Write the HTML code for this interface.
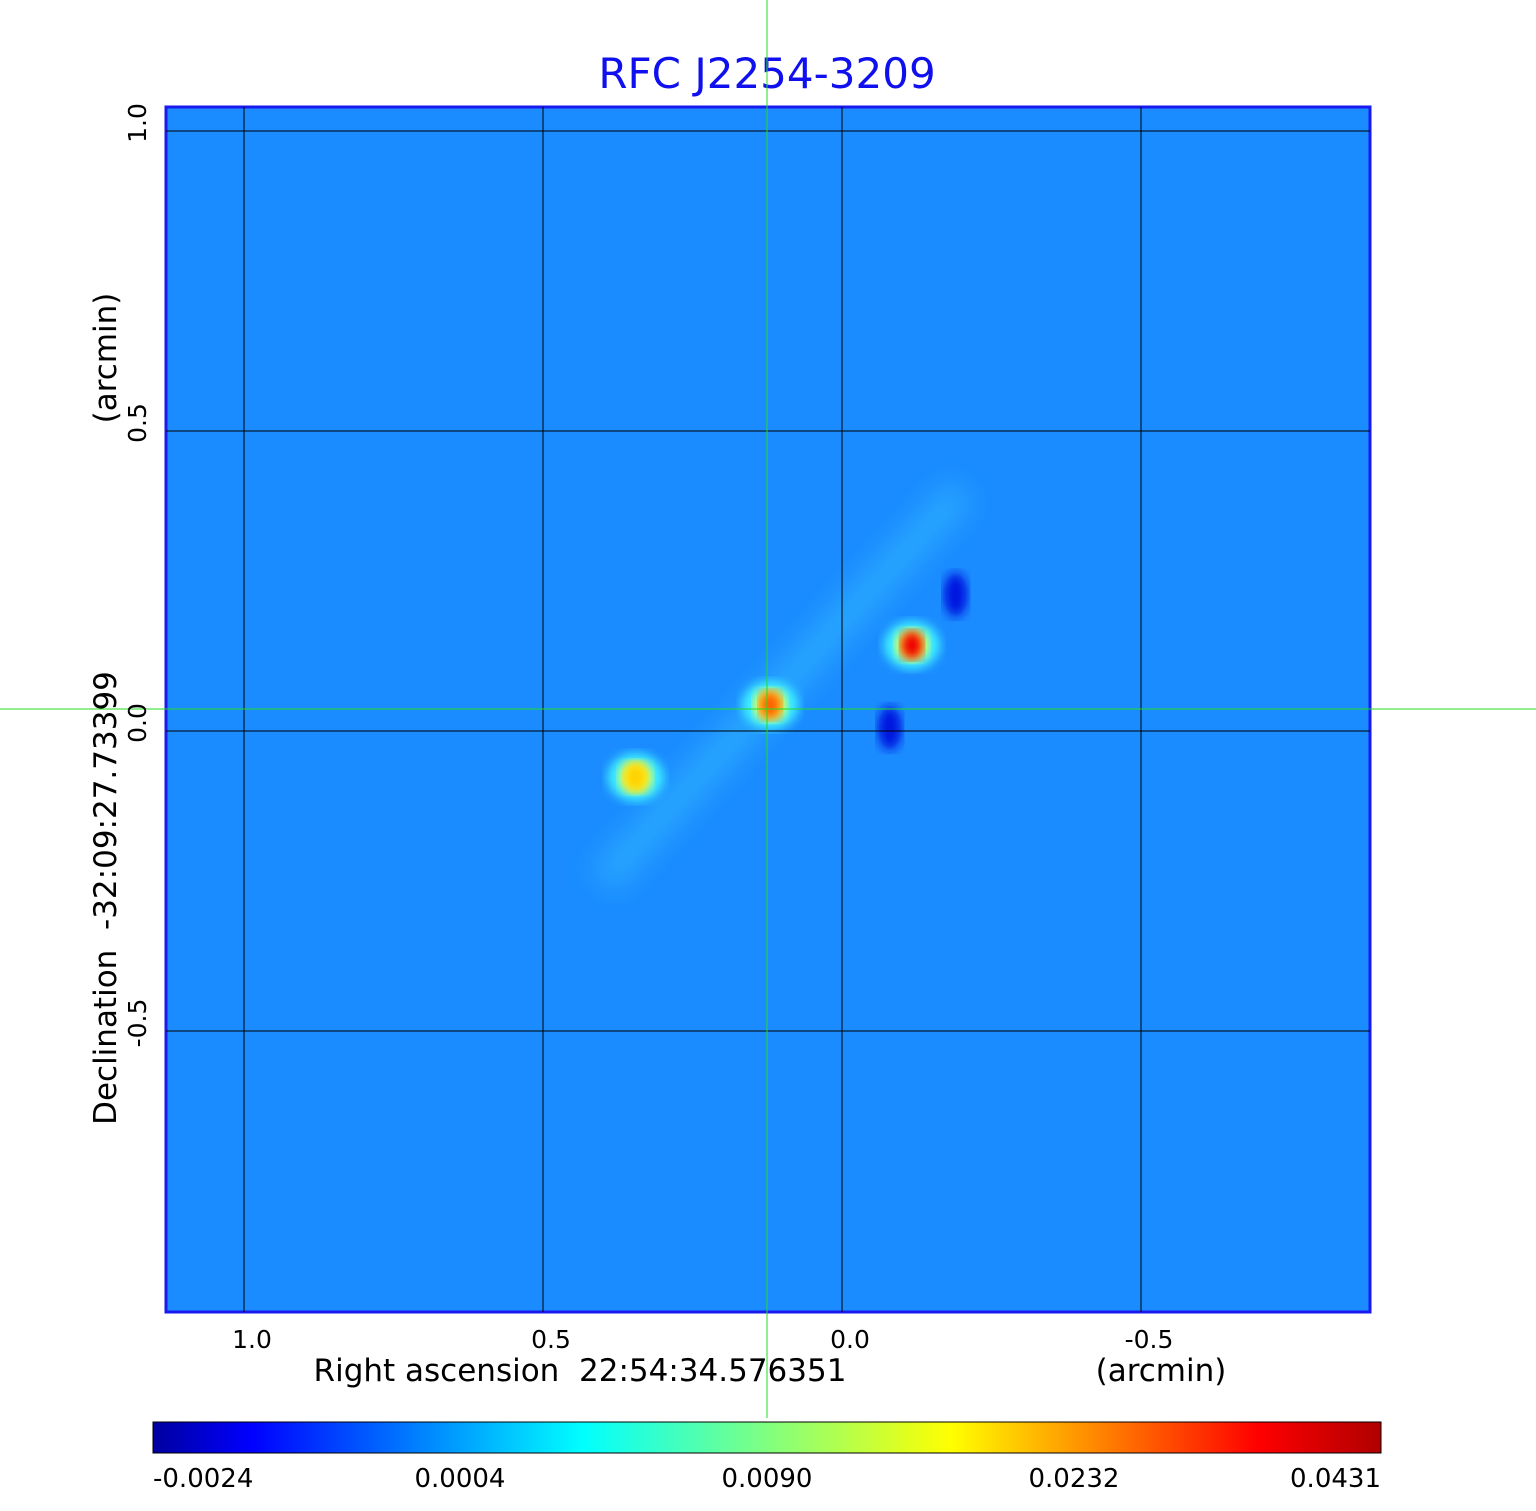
<!DOCTYPE html>
<html><head><meta charset="utf-8"><style>
html,body{margin:0;padding:0;background:#fff;}
svg{display:block;font-family:"DejaVu Sans","Liberation Sans",sans-serif;}
text{white-space:pre;}
</style></head><body>
<svg id="chart" width="1536" height="1511" viewBox="0 0 1536 1511">
<defs>
<linearGradient id="jet" x1="0" x2="1" y1="0" y2="0">
<stop offset="0" stop-color="#0000a0"/><stop offset="0.08" stop-color="#0000ff"/>
<stop offset="0.35" stop-color="#00ffff"/><stop offset="0.5" stop-color="#80ff80"/>
<stop offset="0.65" stop-color="#ffff00"/><stop offset="0.9" stop-color="#ff0000"/>
<stop offset="1" stop-color="#b00000"/></linearGradient>
<filter id="blur"><feGaussianBlur stdDeviation="5"/></filter>
<filter id="blur2"><feGaussianBlur stdDeviation="14"/></filter>
<clipPath id="clip"><rect x="166" y="107" width="1204" height="1205"/></clipPath>
</defs>
<text x="767" y="88" text-anchor="middle" font-size="42" fill="#1010ee">RFC J2254-3209</text>
<g clip-path="url(#clip)">
<rect x="166" y="107" width="1204" height="1205" fill="#1a8cff"/>
<g id="marks"></g>
</g>
<rect x="166" y="107" width="1204" height="1205" fill="none" stroke="#1a1aee" stroke-width="3"/>
<g id="grid"></g>
<line x1="0" y1="709" x2="1536" y2="709" stroke="#22dd22" stroke-width="1"/>
<line x1="767" y1="0" x2="767" y2="1418" stroke="#22dd22" stroke-width="1"/>
<g id="ticks" font-size="25" fill="#000"></g>
<text x="580" y="1381" text-anchor="middle" font-size="31">Right ascension  22:54:34.576351</text>
<text x="1161" y="1381" text-anchor="middle" font-size="31">(arcmin)</text>
<text transform="translate(116,898) rotate(-90)" text-anchor="middle" font-size="31">Declination  -32:09:27.73399</text>
<text transform="translate(116,358) rotate(-90)" text-anchor="middle" font-size="31">(arcmin)</text>
<rect x="153" y="1422" width="1228" height="31" fill="url(#jet)" stroke="#000" stroke-width="1"/>
<g id="cbticks" font-size="26"></g>
</svg>
<script>
const xTicks=[1.0,0.5,0.0,-0.5];
const xTickLabels=["1.0","0.5","0.0","-0.5"];
const yTicks=[1.0,0.5,0.0,-0.5];
const yTickLabels=["1.0","0.5","0.0","-0.5"];
const cbLabels=["-0.0024","0.0004","0.0090","0.0232","0.0431"];
const srcX=[-0.117,0.12,0.345,-0.08,-0.19];
const srcY=[0.143,0.043,-0.077,0.005,0.227];
const srcFlux=[0.0431,0.030,0.020,-0.0024,-0.0020];
const ns="http://www.w3.org/2000/svg";
const X=v=>842-v*598, Y=v=>731-v*600;
function mk(t,a,p){const e=document.createElementNS(ns,t);for(const k in a)e.setAttribute(k,a[k]);p.appendChild(e);return e;}
const grid=document.getElementById('grid'),ticks=document.getElementById('ticks'),marks=document.getElementById('marks');
xTicks.forEach((v,i)=>{
 const l=mk('line',{x1:X(v),x2:X(v),y1:107,y2:1312,stroke:'#000','stroke-width':1},grid);
 
 
 const t=mk('text',{x:X(v)+8,y:1348,'text-anchor':'middle'},ticks);t.textContent=xTickLabels[i];
 
 
});
yTicks.forEach((v,i)=>{
 const l=mk('line',{x1:166,x2:1370,y1:Y(v),y2:Y(v),stroke:'#000','stroke-width':1},grid);
 
 
 const t=mk('text',{transform:`translate(146,${Y(v)-8}) rotate(-90)`,'text-anchor':'middle'},ticks);t.textContent=yTickLabels[i];
 
 
});
const st=mk('line',{x1:X(0.4),y1:Y(-0.25),x2:X(-0.2),y2:Y(0.4),stroke:'#30b8ff','stroke-width':34,filter:'url(#blur2)',opacity:0.6},marks);


function col(f){const t=(f+0.0024)/0.0455;
 if(f<0)return '#0018e0'; if(t>0.85)return '#ee0000'; if(t>0.6)return '#ff6000'; return '#ffd000';}
srcX.forEach((v,i)=>{
 const f=srcFlux[i],cx=X(v),cy=Y(srcY[i]);
 if(f>0){
  const h=mk('ellipse',{cx:cx,cy:cy,rx:28,ry:24,fill:'#40f0ff',filter:'url(#blur)'},marks);
  
  
  const r=mk('ellipse',{cx:cx,cy:cy,rx:16,ry:16,fill:'#ffff30',filter:'url(#blur)'},marks);
  
  
 }
 const c=mk('ellipse',{cx:cx,cy:cy,rx:f>0?11:12,ry:f>0?14:22,fill:col(f),filter:'url(#blur)'},marks);
 
 
});
const cb=document.getElementById('cbticks');
cbLabels.forEach((s,i)=>{
 const x=153+i*307;
 const t=mk('text',{x:x,y:1487,'text-anchor':i==0?'start':(i==4?'end':'middle')},cb);t.textContent=s;
 
 
});
</script>
</body></html>
